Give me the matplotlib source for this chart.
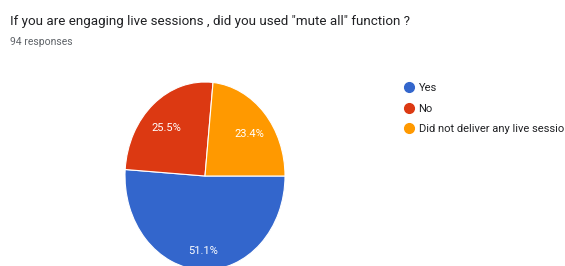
import matplotlib.pyplot as plt
from matplotlib.lines import Line2D

title = 'If you are engaging live sessions , did you used "mute all" function ?'
subtitle = '94 responses'
labels = ['Yes', 'No', 'Did not deliver any live session']
values = [51.1, 25.5, 23.4]
colors = ['#3366cc', '#dc3912', '#ff9900']

plt.rcParams['font.family'] = ['Roboto', 'DejaVu Sans']

fig = plt.figure(figsize=(5.65, 2.66), dpi=100)
# the pie in the source is stretched vertically, so the axes is not square
ax = fig.add_axes([125 / 565, -4 / 266, 160 / 565, 188 / 266])
wedges, texts, autotexts = ax.pie(
    values, colors=colors, startangle=0, counterclock=False,
    autopct='%.1f%%', pctdistance=0.74,
    wedgeprops={'edgecolor': 'white', 'linewidth': 0.8},
    textprops={'color': 'white', 'fontsize': 8})
for t in autotexts:
    t.set_va('top')
ax.set_aspect('auto')
ax.set_xlim(-1, 1)
ax.set_ylim(-1, 1)

fig.text(10 / 565, 1 - 21 / 266, title, fontsize=9.6, color='#202124', va='center')
fig.text(10 / 565, 1 - 42 / 266, subtitle, fontsize=7.5, color='#5f6368', va='center')

# legend text runs off the right edge, same as in the source
handles = [Line2D([], [], marker='o', linestyle='', color=c, markersize=7)
           for c in colors]
fig.legend(handles, labels, loc='upper left', bbox_to_anchor=(403 / 565, 1 - 83 / 266),
           frameon=False, fontsize=8, handlelength=1, handletextpad=0.4,
           labelspacing=0.95, borderaxespad=0, borderpad=0, labelcolor='#202124')

fig.savefig('out.png', dpi=100)
